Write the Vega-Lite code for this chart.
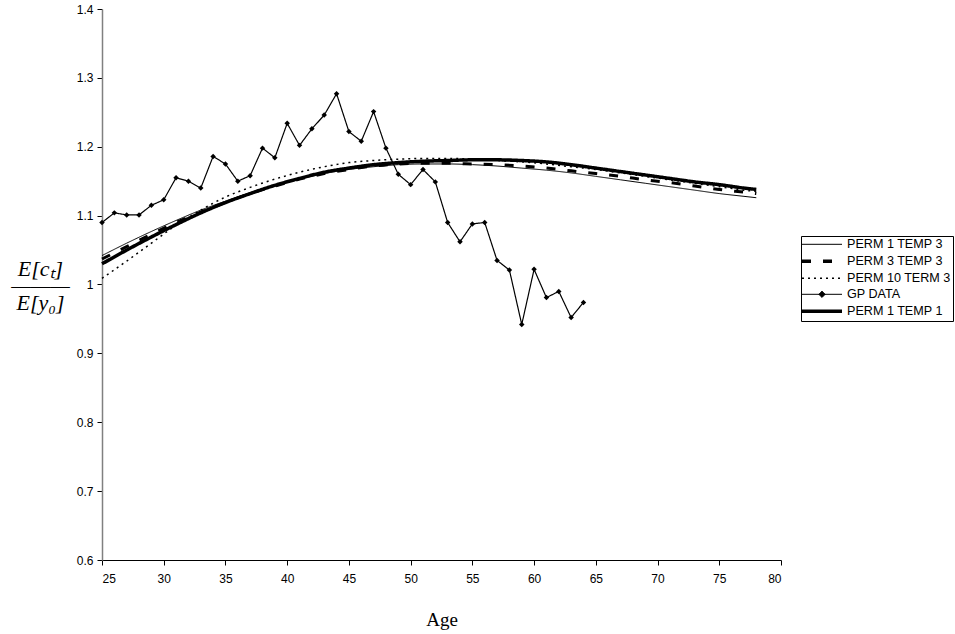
{
  "$schema": "https://vega.github.io/schema/vega-lite/v6.json",
  "autosize": "none",
  "padding": {"left": 102, "top": 9, "right": 174, "bottom": 74},
  "width": 679,
  "height": 551,
  "background": "white",
  "config": {"view": {"stroke": null}},
  "datasets": {
    "rows": [
      {"series": "GP DATA", "age": 25, "v": 1.090}, {"series": "GP DATA", "age": 26, "v": 1.104},
      {"series": "GP DATA", "age": 27, "v": 1.101}, {"series": "GP DATA", "age": 28, "v": 1.101},
      {"series": "GP DATA", "age": 29, "v": 1.115}, {"series": "GP DATA", "age": 30, "v": 1.123},
      {"series": "GP DATA", "age": 31, "v": 1.155}, {"series": "GP DATA", "age": 32, "v": 1.150},
      {"series": "GP DATA", "age": 33, "v": 1.140}, {"series": "GP DATA", "age": 34, "v": 1.186},
      {"series": "GP DATA", "age": 35, "v": 1.175}, {"series": "GP DATA", "age": 36, "v": 1.150},
      {"series": "GP DATA", "age": 37, "v": 1.158}, {"series": "GP DATA", "age": 38, "v": 1.198},
      {"series": "GP DATA", "age": 39, "v": 1.184}, {"series": "GP DATA", "age": 40, "v": 1.234},
      {"series": "GP DATA", "age": 41, "v": 1.202}, {"series": "GP DATA", "age": 42, "v": 1.226},
      {"series": "GP DATA", "age": 43, "v": 1.246}, {"series": "GP DATA", "age": 44, "v": 1.277},
      {"series": "GP DATA", "age": 45, "v": 1.222}, {"series": "GP DATA", "age": 46, "v": 1.208},
      {"series": "GP DATA", "age": 47, "v": 1.251}, {"series": "GP DATA", "age": 48, "v": 1.198},
      {"series": "GP DATA", "age": 49, "v": 1.160}, {"series": "GP DATA", "age": 50, "v": 1.145},
      {"series": "GP DATA", "age": 51, "v": 1.167}, {"series": "GP DATA", "age": 52, "v": 1.149},
      {"series": "GP DATA", "age": 53, "v": 1.090}, {"series": "GP DATA", "age": 54, "v": 1.062},
      {"series": "GP DATA", "age": 55, "v": 1.088}, {"series": "GP DATA", "age": 56, "v": 1.090},
      {"series": "GP DATA", "age": 57, "v": 1.035}, {"series": "GP DATA", "age": 58, "v": 1.021},
      {"series": "GP DATA", "age": 59, "v": 0.942}, {"series": "GP DATA", "age": 60, "v": 1.022},
      {"series": "GP DATA", "age": 61, "v": 0.981}, {"series": "GP DATA", "age": 62, "v": 0.990},
      {"series": "GP DATA", "age": 63, "v": 0.952}, {"series": "GP DATA", "age": 64, "v": 0.974},

      {"series": "PERM 1 TEMP 3", "age": 25, "v": 1.042}, {"series": "PERM 1 TEMP 3", "age": 27, "v": 1.060},
      {"series": "PERM 1 TEMP 3", "age": 29, "v": 1.077}, {"series": "PERM 1 TEMP 3", "age": 31, "v": 1.093},
      {"series": "PERM 1 TEMP 3", "age": 33, "v": 1.108}, {"series": "PERM 1 TEMP 3", "age": 35, "v": 1.121},
      {"series": "PERM 1 TEMP 3", "age": 37, "v": 1.133}, {"series": "PERM 1 TEMP 3", "age": 39, "v": 1.144},
      {"series": "PERM 1 TEMP 3", "age": 41, "v": 1.153}, {"series": "PERM 1 TEMP 3", "age": 43, "v": 1.161},
      {"series": "PERM 1 TEMP 3", "age": 45, "v": 1.167}, {"series": "PERM 1 TEMP 3", "age": 47, "v": 1.171},
      {"series": "PERM 1 TEMP 3", "age": 49, "v": 1.174}, {"series": "PERM 1 TEMP 3", "age": 51, "v": 1.175},
      {"series": "PERM 1 TEMP 3", "age": 53, "v": 1.175}, {"series": "PERM 1 TEMP 3", "age": 55, "v": 1.174},
      {"series": "PERM 1 TEMP 3", "age": 57, "v": 1.172}, {"series": "PERM 1 TEMP 3", "age": 59, "v": 1.169},
      {"series": "PERM 1 TEMP 3", "age": 61, "v": 1.166}, {"series": "PERM 1 TEMP 3", "age": 63, "v": 1.162},
      {"series": "PERM 1 TEMP 3", "age": 65, "v": 1.157}, {"series": "PERM 1 TEMP 3", "age": 67, "v": 1.152},
      {"series": "PERM 1 TEMP 3", "age": 69, "v": 1.147}, {"series": "PERM 1 TEMP 3", "age": 71, "v": 1.142},
      {"series": "PERM 1 TEMP 3", "age": 73, "v": 1.137}, {"series": "PERM 1 TEMP 3", "age": 75, "v": 1.132},
      {"series": "PERM 1 TEMP 3", "age": 77, "v": 1.128}, {"series": "PERM 1 TEMP 3", "age": 78, "v": 1.126},

      {"series": "PERM 3 TEMP 3", "age": 25, "v": 1.037}, {"series": "PERM 3 TEMP 3", "age": 27, "v": 1.055},
      {"series": "PERM 3 TEMP 3", "age": 29, "v": 1.073}, {"series": "PERM 3 TEMP 3", "age": 31, "v": 1.090},
      {"series": "PERM 3 TEMP 3", "age": 33, "v": 1.105}, {"series": "PERM 3 TEMP 3", "age": 35, "v": 1.119},
      {"series": "PERM 3 TEMP 3", "age": 37, "v": 1.132}, {"series": "PERM 3 TEMP 3", "age": 39, "v": 1.143},
      {"series": "PERM 3 TEMP 3", "age": 41, "v": 1.153}, {"series": "PERM 3 TEMP 3", "age": 43, "v": 1.161},
      {"series": "PERM 3 TEMP 3", "age": 45, "v": 1.167}, {"series": "PERM 3 TEMP 3", "age": 47, "v": 1.172},
      {"series": "PERM 3 TEMP 3", "age": 49, "v": 1.175}, {"series": "PERM 3 TEMP 3", "age": 51, "v": 1.176},
      {"series": "PERM 3 TEMP 3", "age": 53, "v": 1.176}, {"series": "PERM 3 TEMP 3", "age": 55, "v": 1.175},
      {"series": "PERM 3 TEMP 3", "age": 57, "v": 1.174}, {"series": "PERM 3 TEMP 3", "age": 59, "v": 1.172},
      {"series": "PERM 3 TEMP 3", "age": 61, "v": 1.169}, {"series": "PERM 3 TEMP 3", "age": 63, "v": 1.165},
      {"series": "PERM 3 TEMP 3", "age": 65, "v": 1.161}, {"series": "PERM 3 TEMP 3", "age": 67, "v": 1.157},
      {"series": "PERM 3 TEMP 3", "age": 69, "v": 1.152}, {"series": "PERM 3 TEMP 3", "age": 71, "v": 1.148},
      {"series": "PERM 3 TEMP 3", "age": 73, "v": 1.143}, {"series": "PERM 3 TEMP 3", "age": 75, "v": 1.138},
      {"series": "PERM 3 TEMP 3", "age": 77, "v": 1.134}, {"series": "PERM 3 TEMP 3", "age": 78, "v": 1.132},

      {"series": "PERM 10 TERM 3", "age": 25, "v": 1.009}, {"series": "PERM 10 TERM 3", "age": 27, "v": 1.034},
      {"series": "PERM 10 TERM 3", "age": 29, "v": 1.060}, {"series": "PERM 10 TERM 3", "age": 31, "v": 1.086},
      {"series": "PERM 10 TERM 3", "age": 33, "v": 1.108}, {"series": "PERM 10 TERM 3", "age": 35, "v": 1.127},
      {"series": "PERM 10 TERM 3", "age": 37, "v": 1.141}, {"series": "PERM 10 TERM 3", "age": 39, "v": 1.153},
      {"series": "PERM 10 TERM 3", "age": 41, "v": 1.163}, {"series": "PERM 10 TERM 3", "age": 43, "v": 1.171},
      {"series": "PERM 10 TERM 3", "age": 45, "v": 1.177}, {"series": "PERM 10 TERM 3", "age": 47, "v": 1.180},
      {"series": "PERM 10 TERM 3", "age": 49, "v": 1.182}, {"series": "PERM 10 TERM 3", "age": 51, "v": 1.183},
      {"series": "PERM 10 TERM 3", "age": 53, "v": 1.183}, {"series": "PERM 10 TERM 3", "age": 55, "v": 1.182},
      {"series": "PERM 10 TERM 3", "age": 57, "v": 1.180}, {"series": "PERM 10 TERM 3", "age": 59, "v": 1.178},
      {"series": "PERM 10 TERM 3", "age": 61, "v": 1.175}, {"series": "PERM 10 TERM 3", "age": 63, "v": 1.171},
      {"series": "PERM 10 TERM 3", "age": 65, "v": 1.167}, {"series": "PERM 10 TERM 3", "age": 67, "v": 1.162},
      {"series": "PERM 10 TERM 3", "age": 69, "v": 1.157}, {"series": "PERM 10 TERM 3", "age": 71, "v": 1.152},
      {"series": "PERM 10 TERM 3", "age": 73, "v": 1.147}, {"series": "PERM 10 TERM 3", "age": 75, "v": 1.142},
      {"series": "PERM 10 TERM 3", "age": 77, "v": 1.137}, {"series": "PERM 10 TERM 3", "age": 78, "v": 1.135},

      {"series": "PERM 1 TEMP 1", "age": 25, "v": 1.030}, {"series": "PERM 1 TEMP 1", "age": 27, "v": 1.050},
      {"series": "PERM 1 TEMP 1", "age": 29, "v": 1.069}, {"series": "PERM 1 TEMP 1", "age": 31, "v": 1.087},
      {"series": "PERM 1 TEMP 1", "age": 33, "v": 1.104}, {"series": "PERM 1 TEMP 1", "age": 35, "v": 1.119},
      {"series": "PERM 1 TEMP 1", "age": 37, "v": 1.132}, {"series": "PERM 1 TEMP 1", "age": 39, "v": 1.144},
      {"series": "PERM 1 TEMP 1", "age": 41, "v": 1.154}, {"series": "PERM 1 TEMP 1", "age": 43, "v": 1.163},
      {"series": "PERM 1 TEMP 1", "age": 45, "v": 1.169}, {"series": "PERM 1 TEMP 1", "age": 47, "v": 1.174},
      {"series": "PERM 1 TEMP 1", "age": 49, "v": 1.177}, {"series": "PERM 1 TEMP 1", "age": 51, "v": 1.179},
      {"series": "PERM 1 TEMP 1", "age": 53, "v": 1.180}, {"series": "PERM 1 TEMP 1", "age": 55, "v": 1.181},
      {"series": "PERM 1 TEMP 1", "age": 57, "v": 1.181}, {"series": "PERM 1 TEMP 1", "age": 59, "v": 1.180},
      {"series": "PERM 1 TEMP 1", "age": 61, "v": 1.178}, {"series": "PERM 1 TEMP 1", "age": 63, "v": 1.174},
      {"series": "PERM 1 TEMP 1", "age": 65, "v": 1.169}, {"series": "PERM 1 TEMP 1", "age": 67, "v": 1.164},
      {"series": "PERM 1 TEMP 1", "age": 69, "v": 1.159}, {"series": "PERM 1 TEMP 1", "age": 71, "v": 1.154},
      {"series": "PERM 1 TEMP 1", "age": 73, "v": 1.149}, {"series": "PERM 1 TEMP 1", "age": 75, "v": 1.145},
      {"series": "PERM 1 TEMP 1", "age": 77, "v": 1.140}, {"series": "PERM 1 TEMP 1", "age": 78, "v": 1.138}
    ]
  },
  "data": {"name": "rows"},
  "encoding": {
    "x": {
      "field": "age", "type": "quantitative",
      "scale": {"domain": [25, 80], "nice": false, "zero": false},
      "axis": {
        "title": "Age", "values": [25, 30, 35, 40, 45, 50, 55, 60, 65, 70, 75, 80],
        "grid": false, "domainColor": "black", "tickColor": "black", "tickSize": 5,
        "labelFont": "Liberation Sans", "labelFontSize": 12, "labelColor": "black", "labelPadding": 8,
        "titleFont": "Liberation Serif", "titleFontSize": 19, "titleFontWeight": "normal", "titleColor": "black",
        "titlePadding": 26
      }
    },
    "y": {
      "field": "v", "type": "quantitative",
      "scale": {"domain": [0.6, 1.4], "nice": false, "zero": false},
      "axis": {
        "title": ["E[cₜ]", "———", "E[y₀]"],
        "values": [0.6, 0.7, 0.8, 0.9, 1.0, 1.1, 1.2, 1.3, 1.4], "format": "~g",
        "grid": false, "domainColor": "#808080", "domainWidth": 1.5, "tickColor": "black", "tickSize": 5,
        "labelFont": "Liberation Sans", "labelFontSize": 12, "labelColor": "black", "labelPadding": 4,
        "titleFont": "Liberation Serif", "titleFontSize": 22, "titleFontStyle": "italic", "titleFontWeight": "normal",
        "titleColor": "black", "titleAngle": 0, "titleAlign": "center", "titleBaseline": "alphabetic",
        "titleLineHeight": 17, "titleX": -62, "titleY": 266
      }
    },
    "strokeDash": {
      "field": "series", "type": "nominal",
      "scale": {
        "domain": ["PERM 1 TEMP 3", "PERM 3 TEMP 3", "PERM 10 TERM 3", "GP DATA", "PERM 1 TEMP 1"],
        "range": [[1, 0], [9, 12], [2, 4], [1, 0], [1, 0]]
      },
      "legend": {
        "title": null, "orient": "none", "legendX": 699, "legendY": 227,
        "strokeColor": "black", "padding": 2, "symbolType": "stroke", "symbolSize": 1600,
        "symbolStrokeColor": "black", "labelFont": "Liberation Sans", "labelFontSize": 12.6,
        "labelColor": "black", "labelOffset": 3, "rowPadding": 3, "labelLimit": 200,
        "encode": {
          "symbols": {
            "update": {
              "shape": {"signal": "datum.value === 'GP DATA' ? 'M-1,0H1M0,-0.16L0.16,0L0,0.16L-0.16,0Z' : 'stroke'"},
              "size": {"value": 1600},
              "x": {"value": 19},
              "stroke": {"value": "black"},
              "fill": {"signal": "datum.value === 'GP DATA' ? 'black' : 'transparent'"},
              "strokeWidth": {"signal": "datum.value === 'PERM 1 TEMP 1' ? 3.5 : datum.value === 'PERM 3 TEMP 3' ? 3.5 : datum.value === 'PERM 10 TERM 3' ? 1.5 : 1"}
            }
          },
          "labels": {
            "update": {"x": {"value": 44}}
          }
        }
      }
    }
  },
  "layer": [
    {
      "transform": [{"filter": "datum.series !== 'GP DATA'"}],
      "mark": {"type": "line", "color": "black", "interpolate": "monotone"},
      "encoding": {
        "strokeWidth": {
          "condition": [
            {"test": "datum.series === 'PERM 1 TEMP 1'", "value": 3.5},
            {"test": "datum.series === 'PERM 3 TEMP 3'", "value": 3},
            {"test": "datum.series === 'PERM 10 TERM 3'", "value": 1.5}
          ],
          "value": 1
        }
      }
    },
    {
      "transform": [{"filter": "datum.series === 'GP DATA'"}],
      "mark": {"type": "line", "color": "black", "interpolate": "linear", "strokeWidth": 1.2}
    },
    {
      "transform": [{"filter": "datum.series === 'GP DATA'"}],
      "mark": {"type": "point", "shape": "diamond", "filled": true, "color": "black", "size": 30, "opacity": 1},
      "encoding": {"strokeDash": {"value": [1, 0]}}
    }
  ]
}
